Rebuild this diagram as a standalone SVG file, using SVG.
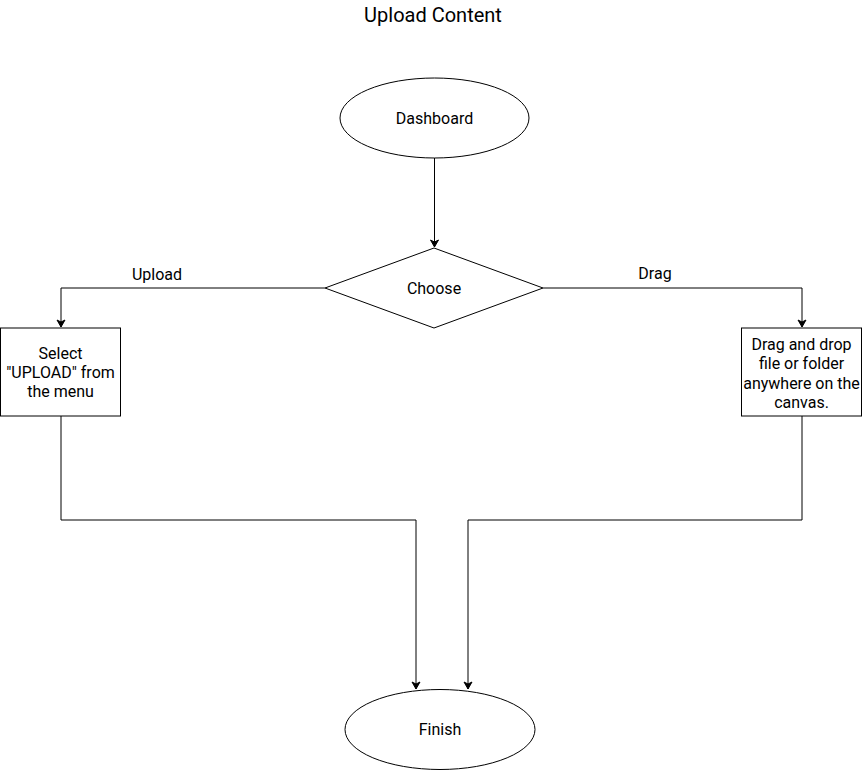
<svg xmlns="http://www.w3.org/2000/svg" width="862" height="770" viewBox="0 0 862 770">
<defs>
<style>
.shape{fill:#fff;stroke:#000;stroke-width:1}
.t{font-family:Roboto,"Liberation Sans",sans-serif;font-size:16px;fill:#000;text-anchor:middle}
.title{font-family:Roboto,"Liberation Sans",sans-serif;font-size:20px;fill:#000;text-anchor:middle}
.edge{fill:none;stroke:#000;stroke-width:1}
</style>
<marker id="arr" markerWidth="10" markerHeight="10" refX="8" refY="5" orient="auto" markerUnits="userSpaceOnUse">
<path d="M1,1 L8,5 L1,9 L3,5 Z" fill="#000" stroke="#000" stroke-width="1"/>
</marker>
</defs>
<rect width="862" height="770" fill="#fff"/>
<text class="title" x="433" y="22">Upload Content</text>
<g id="connectors">
<path class="edge" d="M434.5,158 L434.5,247" marker-end="url(#arr)"/>
<path class="edge" d="M325,288 L61,288 L61,327" marker-end="url(#arr)"/>
<path class="edge" d="M543,288 L802,288 L802,327" marker-end="url(#arr)"/>
<path class="edge" d="M61,416 L61,520 L416,520 L416,689" marker-end="url(#arr)"/>
<path class="edge" d="M802,416 L802,520 L468,520 L468,689" marker-end="url(#arr)"/>
<text class="t" x="157" y="280">Upload</text>
<text class="t" x="655" y="279">Drag</text>
</g>
<g id="dashboard">
<ellipse class="shape" cx="434.5" cy="118" rx="94.5" ry="40"/>
<text class="t" x="434.5" y="123.5">Dashboard</text>
</g>
<g id="choose">
<polygon class="shape" points="434,248 543,288 434,328 325,288"/>
<text class="t" x="434" y="294">Choose</text>
</g>
<g id="select-upload">
<rect class="shape" x="0.5" y="328" width="120" height="88"/>
<text class="t" x="60.5" y="359">Select</text>
<text class="t" x="60.5" y="378">"UPLOAD" from</text>
<text class="t" x="60.5" y="397">the menu</text>
</g>
<g id="drag-drop">
<rect class="shape" x="741.5" y="328" width="120" height="88"/>
<text class="t" x="801.5" y="350">Drag and drop</text>
<text class="t" x="801.5" y="369">file or folder</text>
<text class="t" x="801.5" y="389">anywhere on the</text>
<text class="t" x="801.5" y="408">canvas.</text>
</g>
<g id="finish">
<ellipse class="shape" cx="440" cy="729.5" rx="95" ry="40"/>
<text class="t" x="440" y="735">Finish</text>
</g>
</svg>
